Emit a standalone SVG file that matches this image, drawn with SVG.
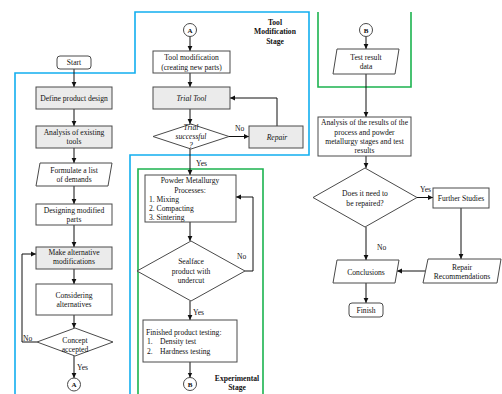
<svg xmlns="http://www.w3.org/2000/svg" width="502" height="394" viewBox="0 0 502 394">
<defs>
<style>
.bx{fill:#fff;stroke:#4a4a4a;stroke-width:1}
.gy{fill:#ebebeb;stroke:#4a4a4a;stroke-width:1}
.t{font-family:"Liberation Serif","Times New Roman",serif;font-size:7.6px;fill:#111;text-anchor:middle}
.l{text-anchor:start}
.i{font-style:italic}
.b{font-weight:bold}
.c{stroke:#111;stroke-width:1;fill:none}
.ca{stroke:#111;stroke-width:1;fill:none;marker-end:url(#ah)}
.blue{stroke:#12aeef;stroke-width:1.6;fill:none}
.green{stroke:#1cb34f;stroke-width:1.6;fill:none}
</style>
<marker id="ah" markerWidth="6" markerHeight="6" refX="5" refY="3" orient="auto" markerUnits="userSpaceOnUse">
<path d="M0,0.6 L5,3 L0,5.4 z" fill="#111"/>
</marker>
</defs>
<rect width="502" height="394" fill="#fff"/>

<g id="stage-borders">
<path class="blue" d="M15,394 V73 H135 V12 H309 V155 H130 V394"/>
<path class="green" d="M138,394 V169 H263 V394"/>
<path class="green" d="M318,12 V87 H411 V12"/>
</g>

<g id="connectors">
<line class="ca" x1="74" y1="69" x2="74" y2="87"/>
<line class="ca" x1="74" y1="109" x2="74" y2="126"/>
<line class="ca" x1="74" y1="148" x2="74" y2="163"/>
<line class="ca" x1="74" y1="186" x2="74" y2="204"/>
<line class="ca" x1="74" y1="225" x2="74" y2="247"/>
<line class="ca" x1="74" y1="269" x2="74" y2="284"/>
<line class="ca" x1="74" y1="315" x2="74" y2="328"/>
<line class="ca" x1="74" y1="356" x2="74" y2="378"/>
<polyline class="ca" points="37,342 22,342 22,254 36,254"/>

<line class="ca" x1="190" y1="36.5" x2="190" y2="51"/>
<line class="ca" x1="190" y1="73" x2="190" y2="87"/>
<line class="ca" x1="190" y1="109" x2="190" y2="124"/>
<line class="ca" x1="229" y1="136.5" x2="249" y2="136.5"/>
<polyline class="ca" points="277,126 277,98 230,98"/>
<line class="ca" x1="190" y1="149" x2="190" y2="175"/>
<line class="ca" x1="190" y1="222" x2="190" y2="241"/>
<polyline class="ca" points="245,271 253,271 253,197 236,197"/>
<line class="ca" x1="190" y1="301" x2="190" y2="320"/>
<line class="ca" x1="190" y1="362" x2="190" y2="377.5"/>

<line class="ca" x1="366" y1="36.5" x2="366" y2="49"/>
<line class="ca" x1="366" y1="74" x2="366" y2="117"/>
<line class="ca" x1="366" y1="156" x2="366" y2="168"/>
<line class="ca" x1="417" y1="197.5" x2="433" y2="197.5"/>
<line class="ca" x1="461" y1="208" x2="461" y2="259"/>
<line class="ca" x1="425" y1="271" x2="397" y2="271"/>
<line class="ca" x1="366" y1="227" x2="366" y2="260"/>
<line class="ca" x1="366" y1="283" x2="366" y2="303"/>

<text class="t l" x="23" y="341">No</text>
<text class="t l" x="77" y="370">Yes</text>
<text class="t l" x="235" y="131">No</text>
<text class="t l" x="196" y="166">Yes</text>
<text class="t l" x="237" y="259">No</text>
<text class="t l" x="193" y="315">Yes</text>
<text class="t l" x="420" y="191.5">Yes</text>
<text class="t l" x="377" y="250">No</text>
</g>

<g id="start"><rect class="bx" x="57" y="56" width="34" height="13" rx="3"/><text class="t" x="74" y="65">Start</text></g>
<g id="define"><rect class="gy" x="36" y="87" width="76" height="22"/><text class="t" x="74" y="100.5">Define product design</text></g>
<g id="analysis-tools"><rect class="gy" x="36" y="126" width="76" height="22"/><text class="t" x="74" y="134.5">Analysis of existing</text><text class="t" x="74" y="143.5">tools</text></g>
<g id="formulate"><polygon class="bx" points="40,163 112,163 108,186 36,186"/><text class="t" x="74" y="172.5">Formulate a list</text><text class="t" x="74" y="181.5">of demands</text></g>
<g id="designing"><rect class="bx" x="36" y="204" width="76" height="21"/><text class="t" x="74" y="212.5">Designing modified</text><text class="t" x="74" y="221.5">parts</text></g>
<g id="make-alt"><rect class="gy" x="36" y="247" width="76" height="22"/><text class="t" x="74" y="255">Make alternative</text><text class="t" x="74" y="264">modifications</text></g>
<g id="considering"><rect class="bx" x="36" y="284" width="76" height="31"/><text class="t" x="74" y="297.5">Considering</text><text class="t" x="74" y="306.5">alternatives</text></g>
<g id="concept"><polygon class="bx" points="75,328 113,342 75,356 37,342"/><text class="t" x="75" y="343">Concept</text><text class="t" x="75" y="352">accepted</text></g>
<g id="connA1"><circle class="bx" cx="74" cy="384.5" r="6.5"/><text class="t b" x="74" y="387.2" style="font-size:7px">A</text></g>

<g id="connA2"><circle class="bx" cx="190" cy="30" r="6.5"/><text class="t b" x="190" y="32.7" style="font-size:7px">A</text></g>
<g id="tool-mod"><rect class="bx" x="153" y="51" width="77" height="22"/><text class="t" x="191.5" y="60">Tool modification</text><text class="t" x="191.5" y="69.5">(creating new parts)</text></g>
<g id="trial-tool"><rect class="gy" x="153" y="87" width="77" height="22"/><text class="t i" x="191.5" y="100.5">Trial Tool</text></g>
<g id="trial-ok"><polygon class="bx" points="191,124 229,136.5 191,149 153,136.5"/><text class="t i" x="191" y="130">Trial</text><text class="t i" x="191" y="139">successful</text><text class="t i" x="191" y="147.5">?</text></g>
<g id="repair"><rect class="gy" x="249" y="126" width="54" height="22"/><text class="t i" x="277" y="139.5">Repair</text></g>
<g id="tool-stage-label"><text class="t b" x="275" y="24.5">Tool</text><text class="t b" x="275" y="34">Modification</text><text class="t b" x="275" y="43.5">Stage</text></g>
<g id="powder"><rect class="bx" x="145" y="175" width="91" height="47"/><text class="t" x="190" y="183">Powder Metallurgy</text><text class="t" x="190" y="192.5">Processes:</text><text class="t l" x="149" y="201.5">1.  Mixing</text><text class="t l" x="149" y="210.5">2.  Compacting</text><text class="t l" x="149" y="219.5">3.  Sintering</text></g>
<g id="sealface"><polygon class="bx" points="191,241 245,271 191,301 137,271"/><text class="t" x="191" y="264">Sealface</text><text class="t" x="191" y="273.5">product with</text><text class="t" x="191" y="282.5">undercut</text></g>
<g id="finished"><rect class="bx" x="143" y="320" width="94" height="42"/><text class="t l" x="146" y="335">Finished product testing:</text><text class="t l" x="147" y="344">1.</text><text class="t l" x="160" y="344">Density test</text><text class="t l" x="147" y="354">2.</text><text class="t l" x="160" y="354">Hardness testing</text></g>
<g id="connB1"><circle class="bx" cx="190" cy="384" r="6.5"/><text class="t b" x="190" y="386.7" style="font-size:7px">B</text></g>
<g id="exp-stage-label"><text class="t b" x="237" y="380.5">Experimental</text><text class="t b" x="237" y="390">Stage</text></g>

<g id="connB2"><circle class="bx" cx="366" cy="30" r="6.5"/><text class="t b" x="366" y="32.7" style="font-size:7px">B</text></g>
<g id="test-data"><polygon class="bx" points="337,49 399,49 395,74 333,74"/><text class="t" x="366" y="60">Test result</text><text class="t" x="366" y="69">data</text></g>
<g id="analysis-results"><rect class="bx" x="318" y="117" width="93" height="39"/><text class="t" x="364.5" y="125">Analysis of the results of the</text><text class="t" x="364.5" y="134.5">process and powder</text><text class="t" x="364.5" y="144">metallurgy stages and test</text><text class="t" x="364.5" y="153.3">results</text></g>
<g id="repaired-q"><polygon class="bx" points="365,168 417,197.5 365,227 313,197.5"/><text class="t" x="365" y="196">Does it need to</text><text class="t" x="365" y="205.5">be repaired?</text></g>
<g id="further"><rect class="bx" x="433" y="188" width="56" height="20"/><text class="t" x="461" y="200.5">Further Studies</text></g>
<g id="repair-rec"><polygon class="bx" points="428,259 501,259 497,283 423,283"/><text class="t" x="462" y="269.5">Repair</text><text class="t" x="462" y="279">Recommendations</text></g>
<g id="conclusions"><polygon class="bx" points="337,260 399,260 395,283 333,283"/><text class="t" x="366" y="274.5">Conclusions</text></g>
<g id="finish"><rect class="bx" x="349" y="303" width="34" height="14" rx="3"/><text class="t" x="366" y="312.5">Finish</text></g>
</svg>
